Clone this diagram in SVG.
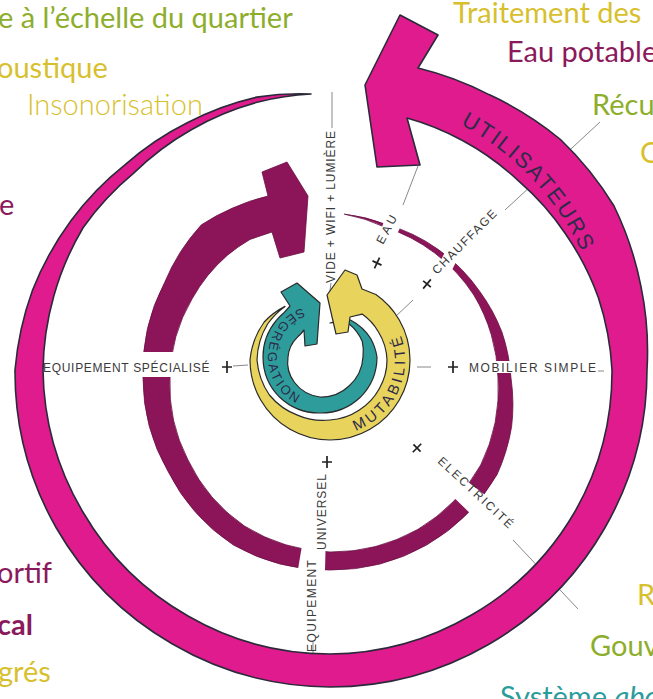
<svg xmlns="http://www.w3.org/2000/svg" xmlns:xlink="http://www.w3.org/1999/xlink" width="653" height="699" viewBox="0 0 653 699">
<style>
.side{font-family:Lato,"Open Sans","Liberation Sans",sans-serif;font-size:29px}
.g{fill:#8DAE2B}.y{fill:#D8BF2E}.p{fill:#8B1A5C}.t{fill:#2A9C9C}
.lbl{font-family:"Liberation Sans","DejaVu Sans",sans-serif;font-size:12px;fill:#3a3a3a}
.guide{stroke:#6a6a6a;stroke-width:0.8;fill:none}
.pl{stroke:#222;stroke-width:1.7;fill:none}
.arc{font-family:"Liberation Sans","DejaVu Sans",sans-serif;fill:#2D2A4A}
</style>
<defs>
<path id="plus" d="M-5,0H5M0,-6V6"/>
<path id="pU" d="M460.5,124.5 A278,278 0 0 1 591.2,274.9"/>
<path id="pS" d="M302.2,308.1 A52,52 0 0 0 311,408.2"/>
<path id="pM" d="M355.7,430.5 A75,75 0 0 0 396.2,324.8"/>
</defs>
<rect width="653" height="699" fill="#fff"/>

<g id="side-texts">
<text class="side g" x="-2" y="28">e à l’échelle du quartier</text>
<text class="side y" x="-3" y="78">oustique</text>
<text class="side y" x="27" y="115" style="font-weight:300">Insonorisation</text>
<text class="side p" x="-1" y="215">e</text>
<text class="side y" x="453" y="23">Traitement des</text>
<text class="side p" x="507" y="62">Eau potable</text>
<text class="side g" x="592" y="115">Récu</text>
<text class="side y" x="640" y="163">C</text>
<text class="side p" x="-3" y="583">ortif</text>
<text class="side p" x="-3" y="635" style="font-weight:700">cal</text>
<text class="side y" x="-2" y="682">grés</text>
<text class="side y" x="637" y="605">R</text>
<text class="side g" x="590" y="656">Gouv</text>
<text class="side t" x="500" y="707">Système <tspan font-style="italic">abo</tspan></text>
</g>

<g id="connectors">
<path class="guide" d="M332,92V128"/>
<path class="guide" d="M331,283L329,298"/>
<path class="guide" d="M418,166L403,205"/>
<path class="guide" d="M505,210L600,122"/>
<path class="guide" d="M413,300L395,317"/>
<path class="guide" d="M417,367H431"/>
<path class="guide" d="M598,371H604"/>
<path class="guide" d="M513,540L578,609"/>
<path class="guide" d="M233,366L248,365"/>
<path class="guide" d="M313,642V656"/>
</g>

<g id="utilisateurs">
<path fill="#DF1B8E" stroke="#2a2a3a" stroke-width="1.6" stroke-linejoin="round" d="M418,68 A318,318 0 0 1 489,94.6 A322,322 0 0 1 560.5,139.5 A327,327 0 0 1 614,206 A325,325 0 0 1 641,286.7 A320,320 0 0 1 647,370 A317,317 0 0 1 604.5,528.5 A317,317 0 0 1 488.5,644.5 A317,317 0 0 1 330,687 A317,317 0 0 1 172,643.7 A316,316 0 0 1 56.3,528 A316,316 0 0 1 15,370 A312,312 0 0 1 32.5,290.3 A304,304 0 0 1 71.1,220.5 A295,295 0 0 1 124.9,164.9 A288,288 0 0 1 187.25,122.8 A284,284 0 0 1 256.9,97.1 A280,280 0 0 1 311,94 A278,278 0 0 0 258.2,102 A277.5,277.5 0 0 0 191.3,129.7 A278,278 0 0 0 133.4,173.4 A282,282 0 0 0 83.2,227.5 A286,286 0 0 0 53.8,296 A287,287 0 0 0 43,370 A286,286 0 0 0 83.2,512.5 A284,284 0 0 0 188,616 A284,284 0 0 0 330,654 A283,283 0 0 0 471.5,615 A283,283 0 0 0 575,511.5 A283,283 0 0 0 612,370 A280,280 0 0 0 598.5,298 A275,275 0 0 0 565.6,234 A270,270 0 0 0 518.8,181.2 A266,266 0 0 0 462.5,140.5 A264,264 0 0 0 407,118 L420,165 L377,167 L365,85 L400,15 L438,35 Z"/>
<text class="arc" font-size="22" letter-spacing="2"><textPath xlink:href="#pU" href="#pU">UTILISATEURS</textPath></text>
</g>

<g id="equipements">
<path fill="#8C1559" stroke="#6a0f44" stroke-width="0.8" stroke-linejoin="round" d="M344.3,214.1 A164,164 0 0 1 385.9,224.4 A166,166 0 0 1 438,249.3 A170,170 0 0 1 479.8,291.5 A176,176 0 0 1 501.9,331.9 A180,180 0 0 1 511,378 A185,185 0 0 1 511.6,426.7 A190,190 0 0 1 497.1,474.5 A193,193 0 0 1 426.5,545.1 A192,192 0 0 1 330,570 A192,192 0 0 1 233.5,545.1 A190,190 0 0 1 168.1,471.5 A187,187 0 0 1 143,378 A189,189 0 0 1 164.6,282.5 A196,196 0 0 1 201.4,224.8 A198,198 0 0 1 232,208.3 A196,196 0 0 1 268,196 L262,172 L287,162 L308,196 L304,252 L280,258 L272,232 L250,239.4 A160,160 0 0 0 227.2,255.4 A160,160 0 0 0 192.3,298.5 A160,160 0 0 0 170,378 A162,162 0 0 0 188,460 A168,168 0 0 0 244.5,526.1 A173,173 0 0 0 330,552 A175,175 0 0 0 417.5,529.6 A175,175 0 0 0 480.7,465 A172,172 0 0 0 495.2,422.3 A170,170 0 0 0 498,378 A168,168 0 0 0 491.3,334.8 A167,167 0 0 0 473.8,295 A165,165 0 0 0 434.8,253.1 A162,162 0 0 0 384.9,227.2 A162,162 0 0 0 344.3,214.1 Z"/>
<g fill="#fff">
<polygon points="302.8,540.7 325.7,543 324.8,578 297,575.2"/>
<polygon points="461.8,477.3 489.7,498.4 473.9,516.9 448.7,492.6"/>
<rect x="486" y="361" width="36" height="12"/>
<rect x="138" y="352" width="36" height="25"/>
<polygon points="380.5,231.4 386,215.4 402.7,222.1 395.5,237.5"/>
<polygon points="440,262 446,250 458,258 452,270"/>
</g>
</g>

<g id="segregation">
<path fill="#2E9C9A" stroke="#2a2a2a" stroke-width="1.2" stroke-linejoin="round" d="M330,323 A48,48 0 0 1 350.9,320.2 A52,52 0 0 1 370.7,338.5 A56,56 0 0 1 377,357 A57,57 0 0 1 360.3,397.3 A57,57 0 0 1 320,413 A57,57 0 0 1 279.7,397.3 A57,57 0 0 1 263,357 A57,57 0 0 1 276.3,320.4 A57,57 0 0 1 283.4,313.3 L290,306 L281,292 L297,283 L320,303 L317,344 L305,346 L304,330 L300.7,334 A30,30 0 0 0 297,337.7 A31,31 0 0 0 288,357 A34,34 0 0 0 294.5,382.5 A38,38 0 0 0 320,397 A40,40 0 0 0 349,386 A42,42 0 0 0 363,357 A44,44 0 0 0 362.3,341.6 A45,45 0 0 0 348.3,323.3 A40,40 0 0 0 330,323 Z"/>
<text class="arc" font-size="13" letter-spacing="2.6"><textPath xlink:href="#pS" href="#pS">SÉGRÉGATION</textPath></text>
</g>

<g id="mutabilite">
<path fill="#E8D35C" stroke="#2a2a2a" stroke-width="1.2" stroke-linejoin="round" d="M285,306.4 A74,74 0 0 0 264.2,322 A78,78 0 0 0 250,360 A80,80 0 0 0 260.7,400 A80,80 0 0 0 290,429.3 A80,80 0 0 0 330,440 A80,80 0 0 0 370,429.3 A80,80 0 0 0 399.3,400 A80,80 0 0 0 410,360 A80,80 0 0 0 399.3,320 A80,80 0 0 0 375.9,294.5 L362,289 L357,275 L345,270 L327,295 L336,334 L348,332 L350,317 L362.1,314.1 A56,56 0 0 1 378.5,332 A57,57 0 0 1 387,360 A57,57 0 0 1 379.4,388.5 A58,58 0 0 1 359,410.2 A60,60 0 0 1 330,420 A62,62 0 0 1 298,415.4 A67,67 0 0 1 269.4,395 A72,72 0 0 1 257,360 A73,73 0 0 1 267.6,324 A71,71 0 0 1 285,306.4 Z"/>
<text class="arc" font-size="15" letter-spacing="3.2"><textPath xlink:href="#pM" href="#pM">MUTABILITÉ</textPath></text>
</g>

<g id="labels">
<text class="lbl" transform="translate(335,283) rotate(-90)" letter-spacing="0.9">VIDE + WIFI + LUMIÈRE</text>
<text class="lbl" transform="translate(383,245) rotate(-62)" letter-spacing="3">EAU</text>
<text class="lbl" transform="translate(437,275) rotate(-45)" letter-spacing="1.5">CHAUFFAGE</text>
<text class="lbl" x="469" y="372" letter-spacing="1.6">MOBILIER SIMPLE</text>
<text class="lbl" transform="translate(437,462) rotate(43)" letter-spacing="2">ELECTRICITÉ</text>
<text class="lbl" x="43" y="372" letter-spacing="0.7">EQUIPEMENT SPÉCIALISÉ</text>
<text class="lbl" transform="translate(326,550) rotate(-90)" font-size="11" letter-spacing="1">UNIVERSEL</text>
<text class="lbl" transform="translate(316,652) rotate(-90)" font-size="11" letter-spacing="1.4">EQUIPEMENT</text>
</g>

<g id="plus-marks" class="pl">
<use xlink:href="#plus" href="#plus" transform="translate(377,263) rotate(25)"/>
<use xlink:href="#plus" href="#plus" transform="translate(427,284) rotate(40)"/>
<use xlink:href="#plus" href="#plus" transform="translate(453,367)"/>
<use xlink:href="#plus" href="#plus" transform="translate(417,448) rotate(45)"/>
<use xlink:href="#plus" href="#plus" transform="translate(327,462)"/>
<use xlink:href="#plus" href="#plus" transform="translate(227,367)"/>
</g>
</svg>
